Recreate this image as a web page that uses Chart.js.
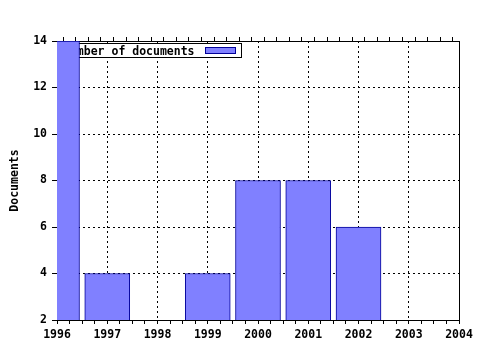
<!DOCTYPE html>
<html>
<head>
<meta charset="utf-8">
<script src="https://cdn.jsdelivr.net/npm/chart.js@4"></script>
<style>
  body { margin: 0; background: #fff; }
  #box { width: 480px; height: 350px; }
</style>
</head>
<body>
<div id="box"><canvas id="docChart" width="480" height="350"></canvas></div>
<script>
// data
var years = [1996, 1997, 1999, 2000, 2001, 2002];
var docCounts = [14, 4, 4, 8, 8, 6];
var seriesLabel = 'Number of documents';
var axisTitle = 'Documents';
var xMin = 1996, xMax = 2004;
var yMin = 2, yMax = 14, yStep = 2;

var fontMono = { family: 'DejaVu Sans Mono', size: 11.5, weight: 'bold' };
var barFill = '#8080ff';
var barEdge = '#000099';

var points = [];
for (var i = 0; i < years.length; i++) {
  points.push({ x: years[i], y: docCounts[i] });
}

// legend box sits inside the plot, under the bars
var legendBox = {
  id: 'legendBox',
  beforeDatasetsDraw: function (chart) {
    var ctx = chart.ctx;
    ctx.save();
    ctx.fillStyle = '#fff';
    ctx.strokeStyle = '#000';
    ctx.lineWidth = 1;
    ctx.fillRect(59.5, 43.5, 182, 14);
    ctx.strokeRect(59.5, 43.5, 182, 14);
    ctx.fillStyle = '#000';
    ctx.font = 'bold 11.5px "DejaVu Sans Mono"';
    ctx.textBaseline = 'alphabetic';
    ctx.fillText(chart.data.datasets[0].label, 63, 55);
    ctx.fillStyle = barFill;
    ctx.fillRect(205.5, 47.5, 30, 6);
    ctx.strokeStyle = barEdge;
    ctx.strokeRect(205.5, 47.5, 30, 6);
    ctx.restore();
  }
};

function isMajor(c) {
  return c.tick && Number.isInteger(c.tick.value);
}

var chart = new Chart(document.getElementById('docChart'), {
  type: 'bar',
  data: {
    datasets: [{
      label: seriesLabel,
      data: points,
      backgroundColor: barFill,
      borderColor: barEdge,
      borderWidth: 1,
      borderSkipped: false,
      barThickness: 45,
      clip: 0
    }]
  },
  options: {
    responsive: false,
    animation: false,
    layout: { padding: 0 },
    plugins: {
      legend: { display: false },
      tooltip: { enabled: false }
    },
    scales: {
      x: {
        type: 'linear',
        position: 'bottom',
        min: xMin,
        max: xMax,
        offset: false,
        afterFit: function (s) { s.height = 30; },
        ticks: {
          stepSize: 0.25,
          autoSkip: false,
          maxRotation: 0,
          padding: 4,
          color: '#000',
          font: fontMono,
          callback: function (v) { return Number.isInteger(v) ? String(v) : ''; }
        },
        grid: {
          offset: false,
          color: function (c) { return isMajor(c) ? '#000' : 'rgba(0,0,0,0)'; },
          tickColor: '#000',
          tickLength: 4,
          lineWidth: 1
        },
        border: { display: true, color: '#000', width: 1, dash: [2, 3] }
      },
      x2: {
        type: 'linear',
        position: 'top',
        min: xMin,
        max: xMax,
        offset: false,
        afterFit: function (s) { s.height = 41; },
        ticks: { stepSize: 0.25, autoSkip: false, display: false },
        grid: { drawOnChartArea: false, tickColor: '#000', tickLength: 4 },
        border: { display: true, color: '#000', width: 1 }
      },
      y: {
        type: 'linear',
        position: 'left',
        min: yMin,
        max: yMax,
        afterFit: function (s) { s.width = 57; },
        ticks: { stepSize: yStep, padding: 5, color: '#000', font: fontMono },
        grid: { color: '#000', tickColor: '#000', tickLength: 5, lineWidth: 1 },
        border: { display: true, color: '#000', width: 1, dash: [2, 3] },
        title: {
          display: true,
          text: axisTitle,
          color: '#000',
          font: fontMono,
          padding: { top: 8, bottom: 0 }
        }
      },
      y2: {
        type: 'linear',
        position: 'right',
        min: yMin,
        max: yMax,
        afterFit: function (s) { s.width = 21; },
        ticks: { display: false },
        grid: { drawOnChartArea: false, drawTicks: false },
        border: { display: true, color: '#000', width: 1 }
      }
    }
  },
  plugins: [legendBox]
});
</script>
</body>
</html>
